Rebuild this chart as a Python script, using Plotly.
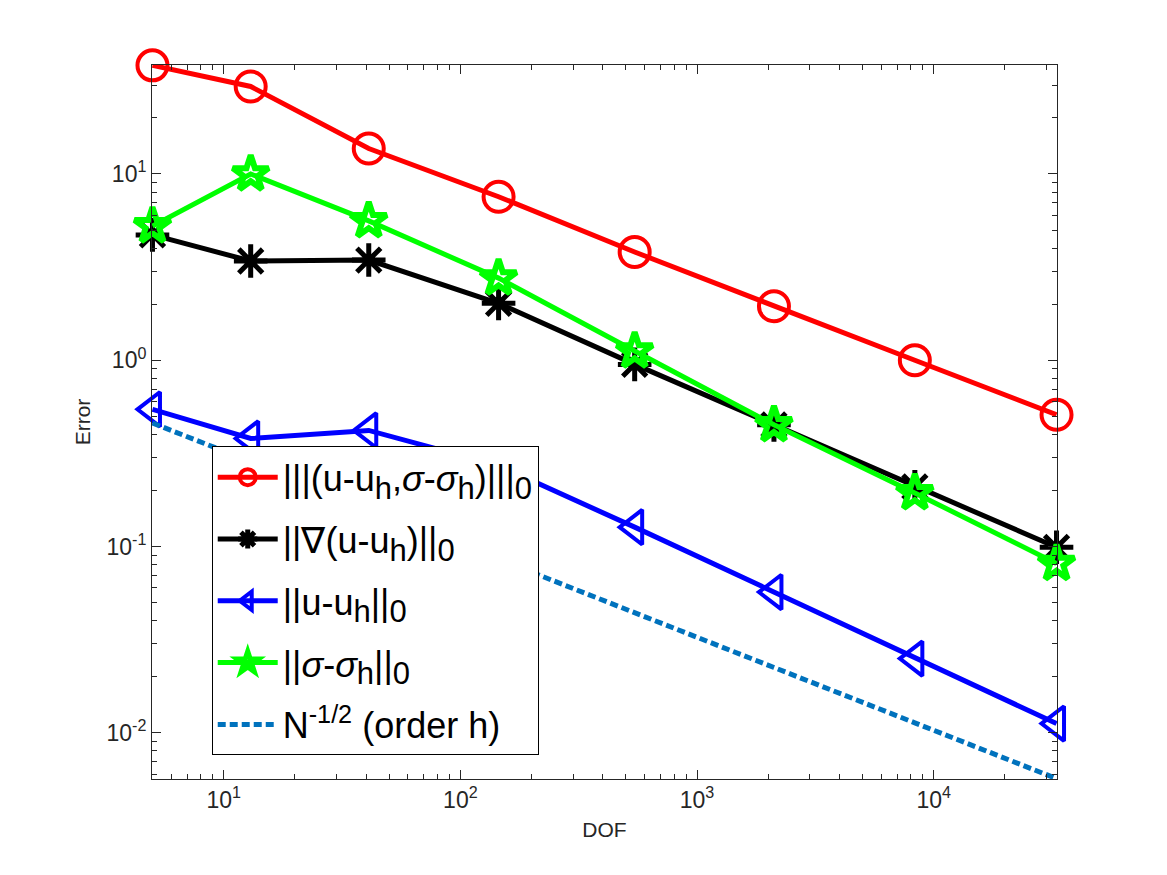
import numpy as np
import plotly.graph_objects as go

# ── data ──
dof = [5, 13, 41, 145, 545, 2113, 8321, 33025]
err_energy = [38.3, 29.5, 13.7, 7.55, 3.81, 1.95, 1.0, 0.51]
err_grad = [4.71, 3.41, 3.45, 2.02, 0.95, 0.45, 0.209, 0.099]
err_l2 = [0.545, 0.38, 0.42, 0.272, 0.127, 0.0569, 0.025, 0.0112]
err_sigma = [5.26, 10.0, 5.6, 2.76, 1.12, 0.45, 0.194, 0.081]
ref_line = [0.46, 0.286, 0.161, 0.0855, 0.0441, 0.0224, 0.0113, 0.00567]

SUB = "<sub><span style='font-size:31px'>%s</span></sub>"
names = [
    "|||(u-u" + SUB % "h" + ",<i>σ</i>-<i>σ</i>" + SUB % "h" + ")|||" + SUB % "0",
    "||∇(u-u" + SUB % "h" + ")||" + SUB % "0",
    "||u-u" + SUB % "h" + "||" + SUB % "0",
    "||<i>σ</i>-<i>σ</i>" + SUB % "h" + "||" + SUB % "0",
    "N<sup>-1/2</sup> (order h)",
]
x_ticks = [10, 100, 1000, 10000]
x_ticktext = ["10<sup>1</sup>", "10<sup>2</sup>", "10<sup>3</sup>", "10<sup>4</sup>"]
y_ticks = [0.01, 0.1, 1, 10]
y_ticktext = ["10<sup>-2</sup>", "10<sup>-1</sup>", "10<sup>0</sup>", "10<sup>1</sup>"]

FONT = "Helvetica, Arial, Liberation Sans, sans-serif"
AXC = "#262626"
EPS = 0.002  # keeps edge markers inside the range so they are drawn
TICK_SIZE = 23
TITLE_SIZE = 21

fig = go.Figure()

styles = [
    (err_energy, "#ff0000", "circle-open", 30, 4),
    (err_grad, "#000000", "asterisk-open", 28, 5),
    (err_l2, "#0000ff", "triangle-left-open", 30, 4),
    (err_sigma, "#00ff00", "star-open", 27, 6),
]
for i, ((vals, color, sym, size, mlw), name) in enumerate(zip(styles, names[:4])):
    fig.add_trace(
        go.Scatter(
            x=dof,
            y=vals,
            name=name,
            legendgroup=f"g{i}",
            mode="lines+markers",
            cliponaxis=False,
            line=dict(color=color, width=5),
            marker=dict(symbol=sym, size=size, color=color, line=dict(color=color, width=mlw)),
        )
    )

fig.add_trace(
    go.Scatter(
        x=dof,
        y=ref_line,
        name=names[4],
        legendgroup="g4",
        mode="lines",
        line=dict(color="#0072BD", width=5, dash="8px,4px"),
    )
)

minor_x = [m * 10 ** k for k in range(0, 5) for m in range(2, 10)]
minor_y = [m * 10.0 ** k for k in range(-3, 2) for m in range(2, 10)]

all_y = err_energy + err_grad + err_l2 + err_sigma + ref_line

fig.update_layout(
    width=1167,
    height=875,
    plot_bgcolor="white",
    paper_bgcolor="white",
    margin=dict(l=144, r=118, t=57, b=104),
    font=dict(family=FONT, color="#000000"),
    showlegend=True,
    xaxis=dict(
        type="log",
        range=[np.log10(min(dof)) - EPS, np.log10(max(dof)) + EPS],
        tickmode="array",
        tickvals=x_ticks,
        ticktext=x_ticktext,
        ticks="inside",
        ticklen=9,
        tickcolor=AXC,
        showline=True,
        linecolor=AXC,
        linewidth=1,
        mirror="ticks",
        showgrid=False,
        zeroline=False,
        tickfont=dict(size=TICK_SIZE, color=AXC, family=FONT),
        title=dict(text="DOF", font=dict(size=TITLE_SIZE, color=AXC, family=FONT), standoff=10),
        minor=dict(tickvals=minor_x, ticks="inside", ticklen=5, tickcolor=AXC, showgrid=False),
    ),
    yaxis=dict(
        type="log",
        range=[np.log10(min(all_y)) - EPS, np.log10(max(all_y)) + EPS],
        tickmode="array",
        tickvals=y_ticks,
        ticktext=y_ticktext,
        ticks="inside",
        ticklen=9,
        tickcolor=AXC,
        showline=True,
        linecolor=AXC,
        linewidth=1,
        mirror="ticks",
        showgrid=False,
        zeroline=False,
        tickfont=dict(size=TICK_SIZE, color=AXC, family=FONT),
        title=dict(text="Error", font=dict(size=TITLE_SIZE, color=AXC, family=FONT), standoff=10),
        minor=dict(tickvals=minor_y, ticks="inside", ticklen=5, tickcolor=AXC, showgrid=False),
    ),
    legend=dict(
        x=0.066,
        y=0.466,
        xanchor="left",
        yanchor="top",
        bgcolor="white",
        bordercolor="#000000",
        borderwidth=1,
        font=dict(size=36, family=FONT, color="#000000"),
        itemwidth=60,
        traceorder="grouped",
        tracegroupgap=12,
    ),
)

fig.write_html("out.html")
